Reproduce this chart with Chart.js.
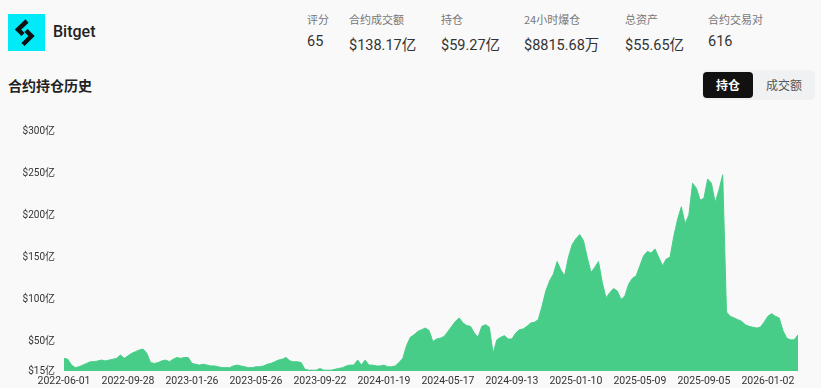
<!DOCTYPE html>
<html>
<head>
<meta charset="utf-8">
<script src="https://cdn.jsdelivr.net/npm/chart.js@4.4.1/dist/chart.umd.min.js"></script>
<style>
    body {
        margin: 0;
        width: 821px;
        height: 388px;
        background: #f9f9f9;
        font-family: Roboto, "Noto Sans CJK SC", sans-serif;
        position: relative;
        overflow: hidden;
        color: #222;
    }
    .logo { position: absolute; left: 8px; top: 14px; width: 37px; height: 37px; }
    .brand { position: absolute; left: 53px; top: 22px; font-size: 16px; font-weight: 500; color: #222; }
    .stat { position: absolute; top: 11px; }
    .stat .k { font-size: 11px; color: #777; font-family: "Noto Sans CJK SC", sans-serif; }
    .stat .v { font-size: 14.5px; color: #333; margin-top: 6px; white-space: nowrap; }
    .title { position: absolute; left: 8px; top: 75px; font-size: 14px; font-weight: 700; font-family: "Noto Sans CJK SC", sans-serif; }
    .toggle { position: absolute; left: 702px; top: 70px; width: 113px; height: 30px; background: #f0f1f3; border-radius: 5px; }
    .btn { position: absolute; top: 2px; height: 26px; line-height: 26px; font-size: 12px; text-align: center; font-family: "Noto Sans CJK SC", sans-serif; }
    .btn.on { left: 1px; width: 50px; background: #111; color: #fff; border-radius: 4px; font-weight: 700; }
    .btn.off { left: 52px; width: 60px; color: #555; }
    #wrap { position: absolute; left: 0; top: 110px; width: 821px; height: 278px; }
</style>
</head>
<body>
<svg class="logo" viewBox="0 0 37 37">
    <rect width="37" height="37" fill="#00eaf8"/>
    <path d="M19 7 L10 15.5 L15 20.5" fill="none" stroke="#111" stroke-width="4.5"/>
    <path d="M18 16.5 L23.5 22 L15 30.5" fill="none" stroke="#111" stroke-width="4.5"/>
</svg>
<div class="brand">Bitget</div>

<div class="stat" style="left:307px"><div class="k">评分</div><div class="v">65</div></div>
<div class="stat" style="left:349px"><div class="k">合约成交额</div><div class="v">$138.17亿</div></div>
<div class="stat" style="left:441px"><div class="k">持仓</div><div class="v">$59.27亿</div></div>
<div class="stat" style="left:524px"><div class="k">24小时爆仓</div><div class="v">$8815.68万</div></div>
<div class="stat" style="left:625px"><div class="k">总资产</div><div class="v">$55.65亿</div></div>
<div class="stat" style="left:708px"><div class="k">合约交易对</div><div class="v">616</div></div>

<div class="title">合约持仓历史</div>
<div class="toggle">
    <div class="btn on">持仓</div>
    <div class="btn off">成交额</div>
</div>

<div id="wrap"><canvas id="oiChart"></canvas></div>

<script>
// Weekly open interest, in 亿 USD, starting 2022-06-01
const START_DATE = '2022-06-01';
const OPEN_INTEREST = [
    30, 29, 22, 19, 20, 22, 24, 26, 26, 27,
    28, 27, 28, 29, 30, 34, 30, 33, 36, 38,
    40, 41, 36, 25, 24, 25, 27, 28, 26, 29,
    31, 30, 31, 31, 24, 23, 22, 23, 22, 21,
    21, 20, 19, 19, 19, 21, 22, 21, 20, 19,
    19, 20, 20, 21, 23, 24, 26, 28, 29, 31,
    27, 26, 26, 25, 17, 16, 16, 16, 18, 16,
    16, 16, 17, 18, 19, 21, 22, 22, 28, 22,
    28, 22, 22, 21, 21, 22, 20, 20, 21, 25,
    30, 45, 55, 58, 62, 64, 66, 63, 50, 53,
    54, 56, 62, 68, 74, 78, 72, 69, 68, 60,
    55, 68, 70, 67, 36, 52, 55, 57, 53, 53,
    60, 64, 65, 68, 72, 73, 76, 92, 110, 122,
    130, 145, 135, 128, 150, 165, 172, 177, 170, 150,
    132, 138, 145, 120, 102, 108, 113, 110, 100, 104,
    118, 125, 128, 140, 152, 157, 155, 160, 150, 140,
    148, 150, 175, 195, 210, 190, 200, 238, 232, 218,
    220, 243, 238, 215, 230, 248, 85, 80, 78, 76,
    74, 70, 68, 67, 66, 67, 73, 80, 83, 80,
    78, 63, 54, 52, 52, 58
];
const X_TICK_LABELS = [
    '2022-06-01', '2022-09-28', '2023-01-26', '2023-05-26', '2023-09-22', '2024-01-19',
    '2024-05-17', '2024-09-13', '2025-01-10', '2025-05-09', '2025-09-05', '2026-01-02'
];
const Y_TICKS = [15, 50, 100, 150, 200, 250, 300];
const TICK_EVERY = 17; // one x label every 17 weeks

const GREEN = '#48cd88';
const FONT = 'Roboto, "Noto Sans CJK SC", sans-serif';

// weekly category labels
const labels = [];
const d0 = new Date(START_DATE + 'T00:00:00Z');
for (let i = 0; i < OPEN_INTEREST.length; i++) {
    const d = new Date(d0.getTime() + i * 7 * 86400000);
    labels.push(d.toISOString().slice(0, 10));
}

new Chart(document.getElementById('oiChart').getContext('2d'), {
    type: 'line',
    data: {
        labels: labels,
        datasets: [{
            data: OPEN_INTEREST,
            borderColor: GREEN,
            borderWidth: 1,
            backgroundColor: GREEN,
            fill: 'start',
            tension: 0,
            pointRadius: 0
        }]
    },
    options: {
        responsive: true,
        maintainAspectRatio: false,
        animation: false,
        layout: {
            padding: { top: 21, right: 23, left: 0, bottom: 0 }
        },
        plugins: {
            legend: { display: false },
            tooltip: { enabled: false }
        },
        scales: {
            x: {
                grid: { display: false, drawTicks: false },
                border: { display: false },
                ticks: {
                    autoSkip: false,
                    maxRotation: 0,
                    padding: 4,
                    color: '#333',
                    font: { size: 10.5, family: FONT },
                    callback: function(value, index) {
                        return index % TICK_EVERY === 0 ? X_TICK_LABELS[index / TICK_EVERY] : '';
                    }
                },
                afterFit: function(scale) { scale.height = 17; }
            },
            y: {
                min: 15,
                max: 300,
                grid: { display: false, drawTicks: false },
                border: { display: false },
                afterBuildTicks: function(scale) {
                    scale.ticks = Y_TICKS.map(v => ({ value: v }));
                },
                ticks: {
                    padding: 9,
                    color: '#333',
                    font: { size: 10, family: FONT },
                    callback: function(value) { return '$' + value + '亿'; }
                },
                afterFit: function(scale) { scale.width = 64; }
            }
        }
    }
});
</script>
</body>
</html>
